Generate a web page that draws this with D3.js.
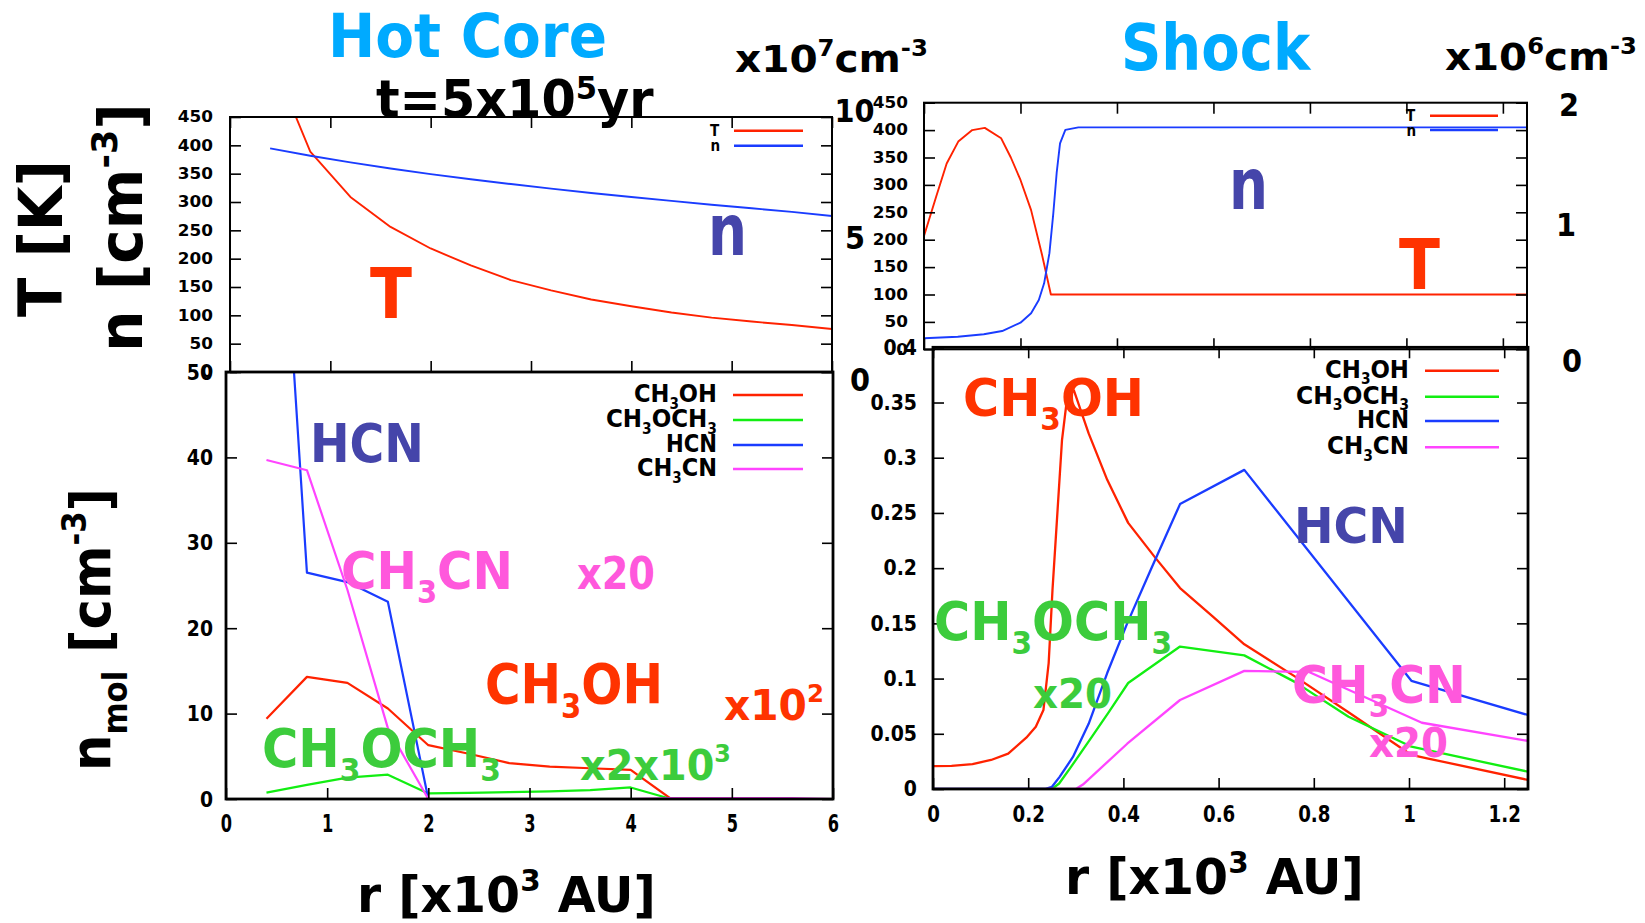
<!DOCTYPE html>
<html>
<head>
<meta charset="utf-8">
<script src="https://cdn.jsdelivr.net/npm/d3@7"></script>
<style>
  html, body { margin: 0; padding: 0; background: #fff; }
  svg { display: block; }
  text { font-family: "DejaVu Sans Condensed", "DejaVu Sans", sans-serif; font-weight: bold; }
</style>
</head>
<body>
<svg id="chart" width="1645" height="923"></svg>
<script>
// ---------------- Hot core model, t = 5x10^5 yr (r in 10^3 AU) ----------------
const hcR       = [0.4, 0.8, 1.2, 1.6, 2.0, 2.4, 2.8, 3.2, 3.6, 4.0, 4.4, 4.8, 5.2, 5.6, 6.0];
const hcTemp    = [560, 389, 309, 256, 218, 188, 162, 144, 128, 116, 105, 96, 89, 83, 76];          // K
const hcDens    = [8.77, 8.48, 8.22, 7.98, 7.76, 7.56, 7.37, 7.19, 7.02, 6.86, 6.71, 6.56, 6.42, 6.28, 6.12]; // x10^7 cm^-3
const hcCH3OH   = [9.4, 14.3, 13.6, 10.6, 6.3, 5.3, 4.2, 3.8, 3.6, 3.4, 0, 0, 0, 0, 0];
const hcCH3OCH3 = [0.75, 1.65, 2.5, 2.85, 0.65, 0.72, 0.8, 0.9, 1.05, 1.35, 0, 0, 0, 0, 0];
const hcHCN     = [100, 26.5, 25.4, 23.1, 0, 0, 0, 0, 0, 0, 0, 0, 0, 0, 0];
const hcCH3CN   = [39.7, 38.5, 24.5, 8.3, 0, 0, 0, 0, 0, 0, 0.1, 0.1, 0.1, 0.1, 0];

// ---------------- Shock model (r in 10^3 AU) ----------------
const shTempR   = [0, 0.025, 0.047, 0.071, 0.100, 0.126, 0.160, 0.180, 0.200, 0.222, 0.244, 0.263, 1.25];
const shTemp    = [207, 278, 339, 379, 400, 404, 385, 350, 309, 254, 175, 100, 100];
const shDensR   = [0, 0.07, 0.124, 0.162, 0.2, 0.222, 0.238, 0.249, 0.26, 0.268, 0.275, 0.282, 0.293, 0.32, 1.25];
const shDens    = [0.089, 0.102, 0.122, 0.148, 0.216, 0.292, 0.40, 0.535, 0.78, 1.10, 1.43, 1.67, 1.78, 1.80, 1.80]; // x10^6 cm^-3

const shCH3OH_R   = [0, 0.039, 0.083, 0.122, 0.158, 0.196, 0.216, 0.232, 0.243, 0.251, 0.260, 0.271, 0.282, 0.296, 0.327, 0.366, 0.41, 0.466, 0.519, 0.588, 0.654, 0.76, 0.876, 1.005, 1.038, 1.25];
const shCH3OH     = [0.0208, 0.021, 0.0226, 0.0263, 0.032, 0.0465, 0.0564, 0.0715, 0.114, 0.180, 0.241, 0.316, 0.355, 0.361, 0.322, 0.280, 0.241, 0.210, 0.182, 0.156, 0.131, 0.102, 0.0686, 0.0308, 0.0278, 0.0082];
const shCH3OCH3_R = [0, 0.25, 0.265, 0.29, 0.33, 0.37, 0.41, 0.519, 0.654, 0.76, 0.873, 1.005, 1.25];
const shCH3OCH3   = [0, 0, 0.005, 0.02, 0.045, 0.07, 0.096, 0.129, 0.121, 0.097, 0.0655, 0.0383, 0.0157];
const shHCN_R     = [0, 0.235, 0.25, 0.266, 0.294, 0.327, 0.366, 0.408, 0.46, 0.519, 0.654, 1.005, 1.25];
const shHCN       = [0, 0, 0.002, 0.011, 0.029, 0.059, 0.105, 0.150, 0.201, 0.258, 0.289, 0.098, 0.067];
const shCH3CN_R   = [0, 0.30, 0.315, 0.408, 0.519, 0.654, 0.79, 1.027, 1.25];
const shCH3CN     = [0, 0, 0.004, 0.041, 0.0806, 0.107, 0.106, 0.060, 0.0435];

// ---------------- tick values ----------------
const tempTicks   = [0, 50, 100, 150, 200, 250, 300, 350, 400, 450];
const hcDensTicks = [0, 5, 10];
const shDensTicks = [0, 1, 2];
const hcRTicks    = [0, 1, 2, 3, 4, 5, 6];
const shRTicks    = [0, 0.2, 0.4, 0.6, 0.8, 1, 1.2];
const hcAbTicks   = [0, 10, 20, 30, 40, 50];
const shAbTicks   = [0, 0.05, 0.1, 0.15, 0.2, 0.25, 0.3, 0.35, 0.4];

const speciesNames = ["CH3OH", "CH3OCH3", "HCN", "CH3CN"];

// ---------------- colours ----------------
const C = {
  red: "#ff2200", blue: "#1a3cff", green: "#12ee12", magenta: "#ff44ff",
  redLab: "#ff3300", slate: "#4545aa", greenLab: "#3ccc3c", pinkLab: "#ff58dc",
  cyan: "#00aaff"
};
const speciesColors = [C.red, C.green, C.blue, C.magenta];

const svg = d3.select("#chart");
const fmt = d3.format("~g");

// ---------------- scales ----------------
const xLT = d3.scaleLinear().domain([0, 6]).range([230, 832]);
const tLT = d3.scaleLinear().domain([0, 450]).range([372, 117]);
const nLT = d3.scaleLinear().domain([0, 10]).range([372, 117]);

const xLB = d3.scaleLinear().domain([0, 6]).range([226, 833]);
const yLB = d3.scaleLinear().domain([0, 50]).range([799, 372]);

const xRT = d3.scaleLinear().domain([0, 1.25]).range([924, 1527]);
const tRT = d3.scaleLinear().domain([0, 450]).range([349.3, 102.7]);
const nRT = d3.scaleLinear().domain([0, 2]).range([349.3, 102.7]);

const xRB = d3.scaleLinear().domain([0, 1.25]).range([933, 1528]);
const yRB = d3.scaleLinear().domain([0, 0.4]).range([789, 347.3]);

// ---------------- helpers ----------------
// parts: string or [text, sizeScale, baselineShiftFraction]
function rich(g, parts, size, color) {
  const t = g.append("text").attr("x", 0).attr("y", 0)
    .attr("font-size", size).attr("fill", color || "#000");
  let shift = 0;
  parts.forEach(p => {
    const [s, sc, sh] = typeof p === "string" ? [p, 1, 0] : p;
    const target = sh * size;
    const ts = t.append("tspan").text(s).attr("dy", target - shift);
    if (sc !== 1) ts.attr("font-size", size * sc);
    shift = target;
  });
  return t;
}
// put text with left edge x, baseline y, stretched to width w (optionally rotated)
function place(t, x, y, w, rot) {
  const b = t.node().getBBox();
  const sx = w ? w / b.width : 1;
  t.attr("transform", `translate(${x},${y})${rot ? " rotate(-90)" : ""} scale(${sx},1) translate(${-b.x},0)`);
  return t;
}
function label(parts, size, color, x, y, w, rot) {
  return place(rich(svg, parts, size, color), x, y, w, rot);
}
const SUB = s => [s, 0.6, 0.27];
const SUP = s => [s, 0.6, -0.42];

function clipRect(id, x0, x1, y0, y1) {
  svg.append("clipPath").attr("id", id).append("rect")
    .attr("x", x0).attr("y", y0).attr("width", x1 - x0).attr("height", y1 - y0);
}
function curve(clip, xs, ys, xScale, yScale, color, width) {
  const line = d3.line().x(d => xScale(d[0])).y(d => yScale(d[1]));
  svg.append("path").attr("clip-path", `url(#${clip})`)
    .datum(d3.zip(xs, ys))
    .attr("d", line).attr("fill", "none")
    .attr("stroke", color).attr("stroke-width", width)
    .attr("stroke-linejoin", "round");
}
function styleTicks(a) {
  a.select(".domain").remove();
  a.selectAll("line").attr("stroke", "#000").attr("stroke-width", 1.6);
}
function frame(x, y, sw) {
  const [x0, x1] = x.range(), [y1, y0] = y.range();
  svg.append("rect").attr("x", x0).attr("y", y0).attr("width", x1 - x0).attr("height", y1 - y0)
    .attr("fill", "none").attr("stroke", "#000").attr("stroke-width", sw);
}
// left y axis with labels, plus mirrored ticks on the right border
function yAxisLeft(x, y, vals, pad, size, sx) {
  const a = svg.append("g").attr("transform", `translate(${x.range()[0]},0)`)
    .call(d3.axisLeft(y).tickValues(vals).tickFormat(fmt).tickSizeInner(-11).tickSizeOuter(0).tickPadding(pad));
  styleTicks(a);
  a.selectAll("text").attr("x", 0).attr("font-size", size).attr("fill", "#000")
    .attr("font-family", null).attr("text-anchor", "end")
    .attr("transform", `translate(${-pad},0) scale(${sx},1)`);
  const b = svg.append("g").attr("transform", `translate(${x.range()[1]},0)`)
    .call(d3.axisRight(y).tickValues(vals).tickFormat("").tickSizeInner(-11).tickSizeOuter(0));
  styleTicks(b);
}
function xTicks(x, y, vals, top, bottom, labelOpts) {
  const [y1, y0] = y.range();
  if (bottom) {
    const a = svg.append("g").attr("transform", `translate(0,${y1})`)
      .call(d3.axisBottom(x).tickValues(vals).tickFormat(labelOpts ? fmt : "").tickSizeInner(-11).tickSizeOuter(0));
    styleTicks(a);
    if (labelOpts) {
      a.selectAll("text").attr("x", 0).attr("y", labelOpts.base).attr("dy", 0)
        .attr("font-size", labelOpts.size).attr("fill", "#000").attr("font-family", null)
        .attr("transform", `scale(${labelOpts.sx},1)`);
    }
  }
  if (top) {
    const b = svg.append("g").attr("transform", `translate(0,${y0})`)
      .call(d3.axisTop(x).tickValues(vals).tickFormat("").tickSizeInner(-11).tickSizeOuter(0));
    styleTicks(b);
  }
}
// large right-hand density labels
function densLabels(y, vals, xs, dys) {
  const a = svg.append("g")
    .call(d3.axisRight(y).tickValues(vals).tickFormat(fmt).tickSize(0).tickPadding(0));
  a.select(".domain").remove();
  a.selectAll("text").attr("font-size", 32).attr("fill", "#000").attr("font-family", null)
    .attr("text-anchor", "middle")
    .attr("x", (d, i) => xs[i])
    .attr("dy", (d, i) => (dys[i] + 11.5) + "px");
}
const chem = nm => nm.split(/(\d)/).filter(s => s).map(s => /\d/.test(s) ? SUB(s) : s);
function legend(names, colors, rightX, lineX0, lineX1, ys, size, widths) {
  names.forEach((nm, i) => {
    svg.append("line").attr("x1", lineX0).attr("x2", lineX1).attr("y1", ys[i]).attr("y2", ys[i])
      .attr("stroke", colors[i]).attr("stroke-width", 2.6);
    const t = rich(svg, chem(nm), size, "#000");
    const w = widths ? widths[i] : t.node().getBBox().width;
    place(t, rightX - w, ys[i] + (widths ? 7 : 5.5), w);
  });
}

// ---------------- Hot core: temperature & density ----------------
clipRect("cLT", 230, 832, 117, 372);
curve("cLT", hcR, hcTemp, xLT, tLT, C.red, 1.9);
curve("cLT", hcR, hcDens, xLT, nLT, C.blue, 1.9);
frame(xLT, tLT, 2);
yAxisLeft(xLT, tLT, tempTicks, 17, 15, 1.25);
xTicks(xLT, tLT, hcRTicks, true, true, null);
densLabels(nLT, hcDensTicks, [860, 855, 854.5], [7, -7.5, -7]);

// ---------------- Hot core: abundances ----------------
clipRect("cLB", 226, 833, 372, 799);
[hcCH3OH, hcCH3OCH3, hcHCN, hcCH3CN].forEach((v, i) =>
  curve("cLB", hcR, v, xLB, yLB, speciesColors[i], 2.2));
frame(xLB, yLB, 2.8);
yAxisLeft(xLB, yLB, hcAbTicks, 13, 22, 0.95);
xTicks(xLB, yLB, hcRTicks, false, true, { base: 33, size: 25, sx: 0.72 });

// ---------------- Shock: temperature & density ----------------
clipRect("cRT", 924, 1527, 102.7, 349.3);
curve("cRT", shTempR, shTemp, xRT, tRT, C.red, 1.9);
curve("cRT", shDensR, shDens, xRT, nRT, C.blue, 1.9);
frame(xRT, tRT, 2);
yAxisLeft(xRT, tRT, tempTicks, 16, 15, 1.25);
xTicks(xRT, tRT, shRTicks, true, true, null);
densLabels(nRT, shDensTicks, [1572, 1566, 1569], [11, -2, 1.7]);

// ---------------- Shock: abundances ----------------
clipRect("cRB", 933, 1528, 347.3, 789);
curve("cRB", shCH3OH_R, shCH3OH, xRB, yRB, C.red, 2.3);
curve("cRB", shCH3OCH3_R, shCH3OCH3, xRB, yRB, C.green, 2.3);
curve("cRB", shHCN_R, shHCN, xRB, yRB, C.blue, 2.3);
curve("cRB", shCH3CN_R, shCH3CN, xRB, yRB, C.magenta, 2.3);
frame(xRB, yRB, 2.8);
yAxisLeft(xRB, yRB, shAbTicks, 16, 21, 1.0);
xTicks(xRB, yRB, shRTicks, true, true, { base: 33.4, size: 23, sx: 0.88 });

// ---------------- legends ----------------
legend(["T", "n"], [C.red, C.blue], 720, 734, 803, [130.7, 145.7], 15, null);
legend(["T", "n"], [C.red, C.blue], 1416, 1430, 1498, [115.7, 130], 15, null);
legend(speciesNames, speciesColors, 717, 733, 803, [395, 420, 445, 469], 25, [83, 111, 51, 80]);
legend(speciesNames, speciesColors, 1409, 1425, 1499, [370.7, 396.7, 421, 447.3], 25, [84, 113, 52, 82]);

// ---------------- titles and axis titles ----------------
label(["Hot Core"], 60, C.cyan, 328, 57, 279);
label(["Shock"], 64, C.cyan, 1121, 70, 191);
label(["t=5x10", ["5", 0.62, -0.36], "yr"], 51, "#000", 376, 117, 278);
label(["x10", SUP("7"), "cm", SUP("-3")], 38, "#000", 735, 72, 193);
label(["x10", SUP("6"), "cm", SUP("-3")], 38, "#000", 1445, 70, 192);

label(["T [K]"], 60, "#000", 62, 317, 157, true);
label(["n [cm", SUP("-3"), "]"], 60, "#000", 142, 352, 249, true);
label(["n", ["mol", 0.6, 0.3], " [cm", SUP("-3"), "]"], 56, "#000", 110, 771, 283, true);

label(["r [x10", SUP("3"), " AU]"], 50, "#000", 357, 912, 299);
label(["r [x10", SUP("3"), " AU]"], 50, "#000", 1065, 894, 299);

// ---------------- in-plot annotations ----------------
label(["T"], 70, C.redLab, 370, 318, 42);
label(["n"], 72, C.slate, 708, 255, 39);
label(["n"], 72, C.slate, 1229, 209, 39);
label(["T"], 70, C.redLab, 1399, 289, 41);

label(["HCN"], 54, C.slate, 310, 462, 114);
label(chem("CH3CN"), 52, C.pinkLab, 341, 589, 172);
label(["x20"], 44, C.pinkLab, 577, 589, 78);
label(chem("CH3OH"), 55, C.redLab, 485, 703, 178);
label(["x10", SUP("2")], 42, C.redLab, 724, 720, 100);
label(chem("CH3OCH3"), 53, C.greenLab, 262, 767, 239);
label(["x2x10", SUP("3")], 42, C.greenLab, 580, 780, 151);

label(chem("CH3OH"), 52, C.redLab, 963, 416, 181);
label(["HCN"], 50, C.slate, 1294, 543, 114);
label(chem("CH3OCH3"), 53, C.greenLab, 934, 640, 238);
label(["x20"], 40, C.greenLab, 1033, 708, 79);
label(chem("CH3CN"), 52, C.pinkLab, 1292, 703, 174);
label(["x20"], 40, C.pinkLab, 1369, 757, 79);
</script>
</body>
</html>
